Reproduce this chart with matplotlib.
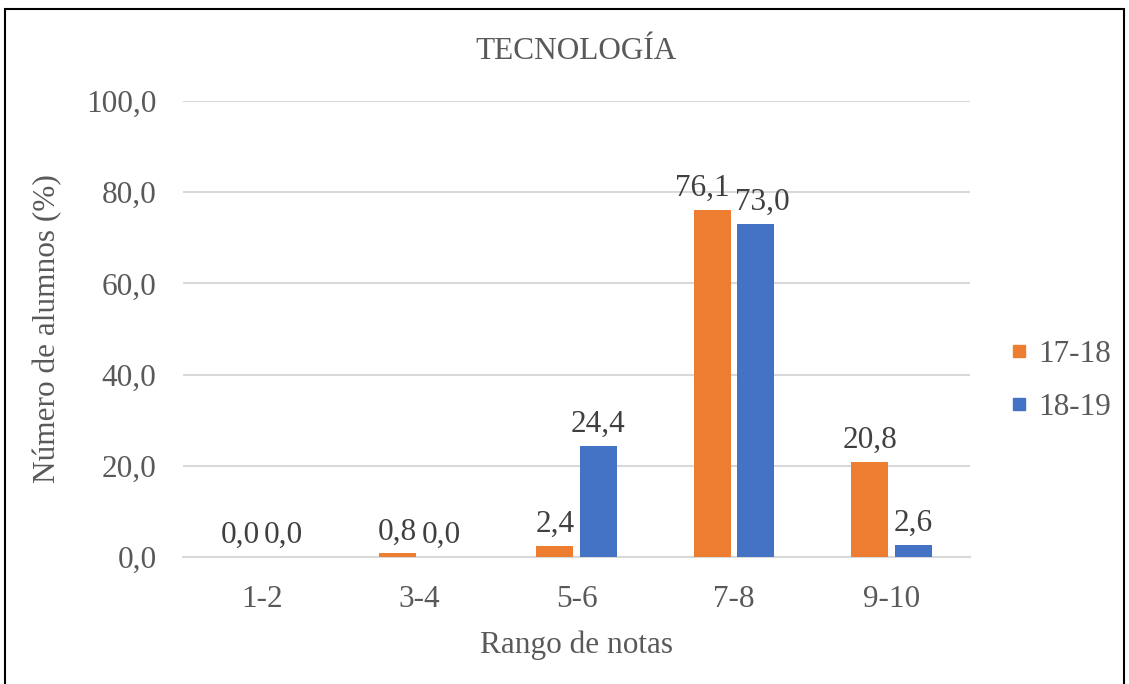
import matplotlib
matplotlib.use("Agg")
import matplotlib.pyplot as plt
import numpy as np
from matplotlib.lines import Line2D
from matplotlib.patches import Rectangle

categories = ["1-2", "3-4", "5-6", "7-8", "9-10"]
series_names = ["17-18", "18-19"]
values_1718 = [0.0, 0.8, 2.4, 76.1, 20.8]
values_1819 = [0.0, 0.0, 24.4, 73.0, 2.6]
yticks = [0, 20, 40, 60, 80, 100]
colors = ["#ED7D31", "#4472C4"]
txt = "#595959"

plt.rcParams['font.family'] = ['Liberation Serif', 'DejaVu Serif']
FS = 22.5

fig = plt.figure(figsize=(11.29, 6.84), dpi=100)
ax = fig.add_axes([183/1129, 1-557/684, 787/1129, 456/684])

x = np.arange(len(categories))
w = 0.235
off = 0.138
# label nudges (points) to avoid overlap, as in the reference
nudge = {(0, 3): -7, (1, 3): 5}
for si, (vals, col, sgn) in enumerate([(values_1718, colors[0], -1), (values_1819, colors[1], 1)]):
    bars = ax.bar(x + sgn*off, vals, width=w, color=col, zorder=3)
    for ci, (b, v) in enumerate(zip(bars, vals)):
        ax.annotate(f"{v:.1f}".replace('.', ','), (b.get_x()+b.get_width()/2, v),
                    xytext=(nudge.get((si, ci), 0), 5), textcoords='offset points',
                    ha='center', va='bottom', fontsize=FS, color="#404040")

ax.set_xlim(-0.5, 4.5)
ax.set_ylim(0, 100)
ax.set_yticks(yticks)
ax.set_yticklabels([f"{t:.1f}".replace('.', ',') for t in yticks], fontsize=FS, color=txt)
ax.set_xticks(x)
ax.set_xticklabels(categories, fontsize=FS, color=txt)
ax.tick_params(length=0)
ax.tick_params(axis='y', pad=19)
ax.tick_params(axis='x', pad=20)
ax.grid(axis='y', color='#d9d9d9', linewidth=1.5, zorder=0)
for s in ['top', 'right', 'left']:
    ax.spines[s].set_visible(False)
ax.spines['bottom'].set_color('#d9d9d9')
ax.spines['bottom'].set_linewidth(1.5)
ax.set_xlabel("Rango de notas", fontsize=FS, color=txt, labelpad=12)
ax.set_ylabel("Número de alumnos (%)", fontsize=FS, color=txt, labelpad=17)
ax.set_title("TECNOLOGÍA", fontsize=FS, color=txt, pad=30)

handles = [Line2D([], [], marker='s', linestyle='none', markersize=8, color=c) for c in colors]
fig.legend(handles, series_names, loc='center left', bbox_to_anchor=(996/1129, 1-381/684),
           frameon=False, fontsize=FS, labelcolor=txt, handlelength=0.5, handletextpad=0.35,
           labelspacing=0.78, borderpad=0)

fig.patches.append(Rectangle((5/1129, -0.05), 1119/1129, 1.05-9/684, transform=fig.transFigure,
                             fill=False, edgecolor='black', linewidth=1.5))

fig.savefig("out.png", dpi=100)
